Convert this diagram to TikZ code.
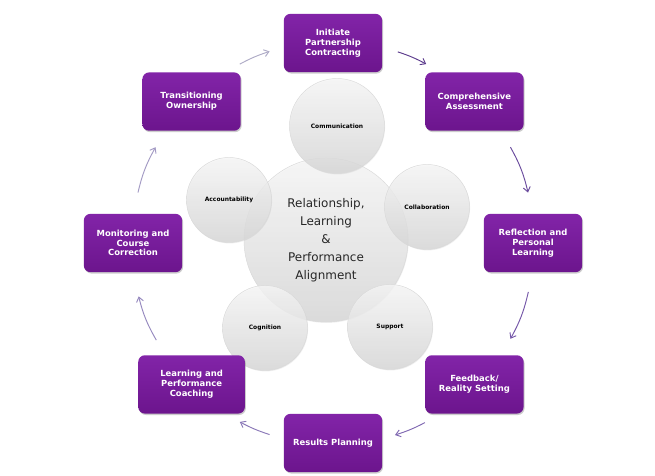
\documentclass[tikz,border=0pt]{standalone}
\usepackage{fontspec}
\setmainfont{DejaVu Sans}
\usepackage{tikz}
\usetikzlibrary{backgrounds,shadows,arrows.meta}

\definecolor{stagetop}{HTML}{8224A8}
\definecolor{stagebottom}{HTML}{6C158D}
\definecolor{flowA}{HTML}{AEAAC6}
\definecolor{flowB}{HTML}{5B3A8C}
\definecolor{flowC}{HTML}{6B4C9E}
\definecolor{flowD}{HTML}{7456A8}
\definecolor{flowE}{HTML}{8068B2}
\definecolor{flowF}{HTML}{8A78B8}
\definecolor{flowG}{HTML}{9689BF}
\definecolor{flowH}{HTML}{A39AC4}

\begin{document}
\begin{tikzpicture}[x=0.03cm,y=0.03cm,thick]
    % `stage' is used for the eight purple boxes of the cycle.
    % `bubble' is used for the grey circles, `core' for the big middle one.
    % `flow' is used for the curved arrows between the boxes.
    \tikzstyle{stage} = [rounded corners=2mm,top color=stagetop,bottom color=stagebottom,
      text=white,align=center,font=\bfseries\fontsize{7.2}{8.4}\selectfont,
      minimum width=2.95cm,minimum height=1.75cm,
      drop shadow={shadow xshift=0.8pt,shadow yshift=-1.2pt,opacity=0.4}]
    \tikzstyle{bubble} = [circle,draw=gray!30,thin,top color=gray!6,bottom color=gray!32,
      fill opacity=0.8,text opacity=1,align=center,inner sep=0pt,minimum size=2.55cm,
      font=\bfseries\fontsize{5.1}{6}\selectfont,
      drop shadow={shadow xshift=0.5pt,shadow yshift=-0.8pt,opacity=0.12}]
    \tikzstyle{core} = [bubble,minimum size=4.92cm,text=black!85,
      font=\fontsize{10.2}{15.4}\selectfont]
    \tikzstyle{flow} = [-{Straight Barb[length=4pt,width=6pt]},line width=0.8pt]
    %
    \path[fill=white] (-333,-232) rectangle (322,243);
    %
    \node[core] (core) at (-7,3) {Relationship,\\Learning\\\&\\Performance\\Alignment};
    \node[bubble,minimum size=2.85cm] (comm) at (4,117) {Communication};
    \node[bubble] (collab) at (94,36) {Collaboration};
    \node[bubble] (supp) at (57,-84) {Support};
    \node[bubble] (cogn) at (-68,-85) {Cognition};
    \node[bubble] (acct) at (-104,43) {Accountability};
    %
    \node[stage] (init) at (90:200) {Initiate\\Partnership\\Contracting};
    \node[stage] (assess) at (45:200) {Comprehensive\\Assessment};
    \node[stage] (reflect) at (0:200) {Reflection and\\Personal\\Learning};
    \node[stage] (feedback) at (-45:200) {Feedback/\\Reality Setting};
    \node[stage] (results) at (-90:200) {Results Planning};
    \node[stage,minimum width=3.2cm] (coach) at (-135:200) {Learning and\\Performance\\Coaching};
    \node[stage] (monitor) at (180:200) {Monitoring and\\Course\\Correction};
    \node[stage] (transit) at (135:200) {Transitioning\\Ownership};
    %
    % Arrows: short pieces of the circle through the box centres.
    \path (transit.center) to[bend left=22.5] coordinate[pos=.38] (a1) coordinate[pos=.6] (b1) (init.center);
    \path (init.center) to[bend left=22.5] coordinate[pos=.41] (a2) coordinate[pos=.62] (b2) (assess.center);
    \path (assess.center) to[bend left=22.5] coordinate[pos=.36] (a3) coordinate[pos=.69] (b3) (reflect.center);
    \path (reflect.center) to[bend left=22.5] coordinate[pos=.3] (a4) coordinate[pos=.64] (b4) (feedback.center);
    \path (feedback.center) to[bend left=22.5] coordinate[pos=.39] (a5) coordinate[pos=.61] (b5) (results.center);
    \path (results.center) to[bend left=22.5] coordinate[pos=.4] (a6) coordinate[pos=.62] (b6) (coach.center);
    \path (coach.center) to[bend left=22.5] coordinate[pos=.35] (a7) coordinate[pos=.67] (b7) (monitor.center);
    \path (monitor.center) to[bend left=22.5] coordinate[pos=.31] (a8) coordinate[pos=.64] (b8) (transit.center);
    \draw[flow,flowA] (a1) to[bend left=5] (b1);
    \draw[flow,flowB] (a2) to[bend left=5] (b2);
    \draw[flow,flowC] (a3) to[bend left=8] (b3);
    \draw[flow,flowD] (a4) to[bend left=8] (b4);
    \draw[flow,flowE] (a5) to[bend left=5] (b5);
    \draw[flow,flowF] (a6) to[bend left=5] (b6);
    \draw[flow,flowG] (a7) to[bend left=8] (b7);
    \draw[flow,flowH] (a8) to[bend left=8] (b8);
\end{tikzpicture}
\end{document}
